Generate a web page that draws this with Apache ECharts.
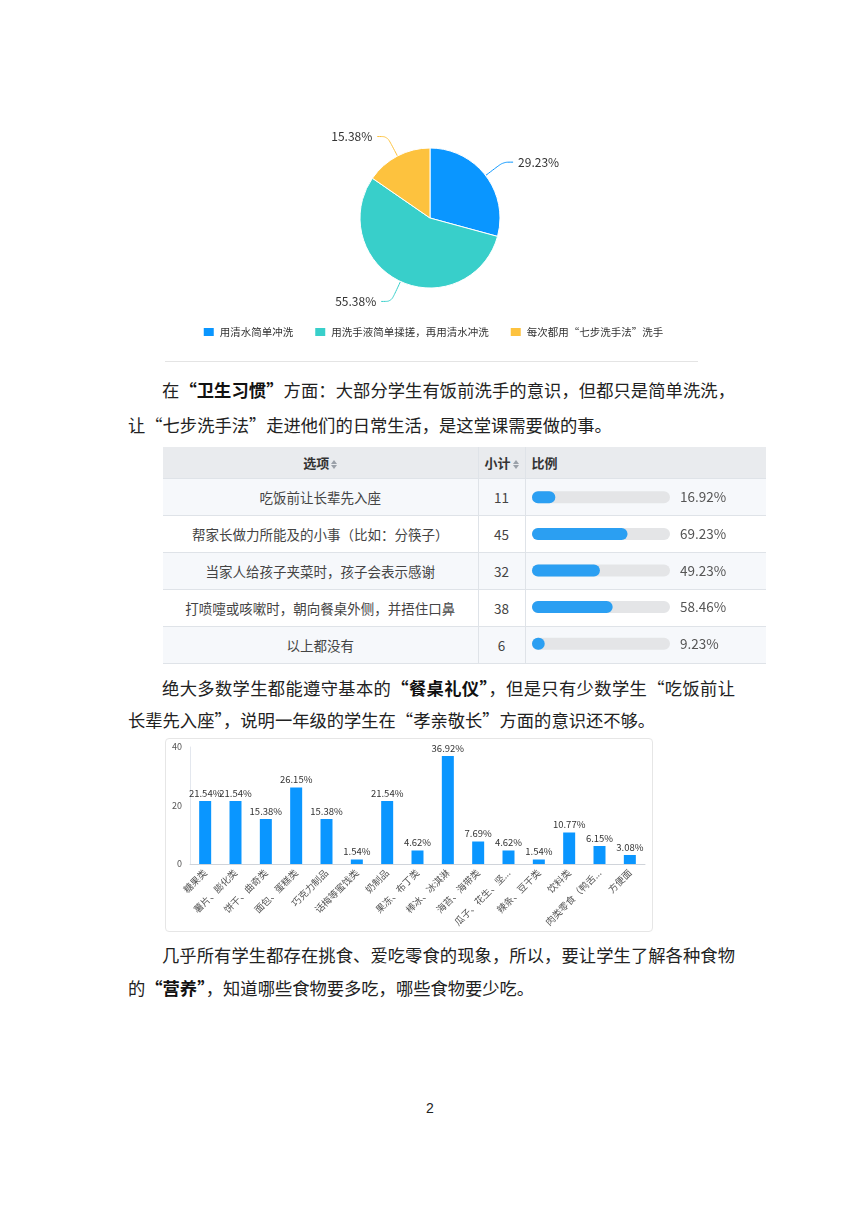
<!DOCTYPE html>
<html>
<head>
<meta charset="utf-8">
<script src="https://cdn.jsdelivr.net/npm/echarts@6/dist/echarts.min.js"></script>
<style>
body { margin: 0; background: #fff; font-family: "Noto Sans CJK SC", sans-serif; }
.page { position: relative; width: 860px; height: 1216px; background: #fff; overflow: hidden; }
.abs { position: absolute; }
.line { position: absolute; left: 128px; width: 607px; font-size: 17.3px; line-height: 24px; color: #222; white-space: nowrap; }
.line.first { padding-left: 34px; width: 573px; text-align: justify; text-align-last: justify; }
.line b { font-weight: 700; color: #111; }
.sep { left: 165px; top: 361px; width: 533px; height: 1px; background: #e4e4e4; }
table.opt { position: absolute; left: 163px; top: 447px; width: 603px; border-collapse: collapse; font-size: 13.5px; color: #444; table-layout: fixed; }
table.opt th { background: #e9ebee; height: 31px; font-weight: 700; color: #333; padding: 0; font-size: 13px; }
table.opt td { height: 36px; border-top: 1px solid #dfe3e8; padding: 0; }
table.opt td, table.opt th { border-right: 1px solid #dfe3e8; }
table.opt td:last-child, table.opt th:last-child { border-right: none; }
table.opt tr.alt td { background: #f6f8fb; }
table.opt tr:last-child td { border-bottom: 1px solid #dfe3e8; }
.c1 { text-align: center; }
.c2 { text-align: center; }
.sort { display: inline-block; width: 6px; height: 9px; position: relative; vertical-align: -1px; margin-left: 2px; }
.sort:before, .sort:after { content: ""; position: absolute; left: 0; border-left: 3px solid transparent; border-right: 3px solid transparent; }
.sort:before { top: 0; border-bottom: 4px solid #9aa0a8; }
.sort:after { bottom: 0; border-top: 4px solid #9aa0a8; }
.card { left: 165px; top: 738px; width: 486px; height: 192px; border: 1px solid #e6e6e6; border-radius: 4px; }
</style>
</head>
<body>
<div class="page">
  <div id="pie" class="abs" style="left:165px;top:100px;width:535px;height:255px;"></div>
  <div class="abs sep"></div>

  <div class="line first" style="top:378px;">在<b>“卫生习惯”</b>方面：大部分学生有饭前洗手的意识，但都只是简单洗洗，</div>
  <div class="line" style="top:413px;">让“七步洗手法”走进他们的日常生活，是这堂课需要做的事。</div>

  <table class="opt" id="tbl">
    <colgroup><col style="width:315px"><col style="width:47px"><col style="width:241px"></colgroup>
    <thead><tr><th class="c1">选项<span class="sort"></span></th><th class="c2">小计<span class="sort"></span></th><th style="text-align:left;padding-left:6px;">比例</th></tr></thead>
    <tbody id="tbody"></tbody>
  </table>
  <div id="ratio" class="abs" style="left:526px;top:479px;width:240px;height:183px;"></div>

  <div class="line first" style="top:676px;">绝大多数学生都能遵守基本的<b>“餐桌礼仪”</b>，但是只有少数学生“吃饭前让</div>
  <div class="line" style="top:708px;">长辈先入座”，说明一年级的学生在“孝亲敬长”方面的意识还不够。</div>

  <div class="abs card"></div>
  <div id="bar" class="abs" style="left:165px;top:738px;width:488px;height:194px;"></div>

  <div class="line first" style="top:943px;">几乎所有学生都存在挑食、爱吃零食的现象，所以，要让学生了解各种食物</div>
  <div class="line" style="top:976px;">的<b>“营养”</b>，知道哪些食物要多吃，哪些食物要少吃。</div>

  <div class="abs" style="left:420px;top:1100px;width:20px;text-align:center;font-size:14px;color:#222;font-family:'Liberation Sans',sans-serif;">2</div>
</div>

<script>
// 洗手方式
const washNames = ['用清水简单冲洗', '用洗手液简单揉搓，再用清水冲洗', '每次都用“七步洗手法”洗手']
const washPct = [29.23, 55.38, 15.38]
const washColors = ['#0a96ff', '#38cfca', '#fdc23e']

// 餐桌礼仪表格
const mannerNames = ['吃饭前让长辈先入座', '帮家长做力所能及的小事（比如：分筷子）', '当家人给孩子夹菜时，孩子会表示感谢', '打喷嚏或咳嗽时，朝向餐桌外侧，并捂住口鼻', '以上都没有']
const mannerCount = [11, 45, 32, 38, 6]
const mannerPct = [16.92, 69.23, 49.23, 58.46, 9.23]

// 零食
const snackNames = ['糖果类', '薯片、膨化类', '饼干、曲奇类', '面包、蛋糕类', '巧克力制品', '话梅等蜜饯类', '奶制品', '果冻、布丁类', '棒冰、冰淇淋', '海苔、海带类', '瓜子、花生、坚果类', '辣条、豆干类', '饮料类', '肉类零食（鸭舌、鸡爪）', '方便面']
const snackPct = [21.54, 21.54, 15.38, 26.15, 15.38, 1.54, 21.54, 4.62, 36.92, 7.69, 4.62, 1.54, 10.77, 6.15, 3.08]
const snackTicks = [0, 20, 40]

const font = '"Noto Sans CJK SC", sans-serif'

// 饼图
const pieChart = echarts.init(document.getElementById('pie'))
pieChart.setOption({
  color: washColors,
  textStyle: { fontFamily: font },
  legend: {
    bottom: 12,
    left: 'center',
    itemWidth: 12,
    itemHeight: 10,
    itemGap: 20,
    icon: 'rect',
    textStyle: { fontSize: 10.5, color: '#333' },
    data: washNames
  },
  series: [{
    type: 'pie',
    center: [265, 118],
    radius: 70,
    startAngle: 90,
    label: { formatter: '{c}%', fontSize: 12, color: '#333' },
    labelLine: { length: 22, length2: 10, smooth: true },
    itemStyle: { borderColor: '#fff', borderWidth: 1 },
    data: washNames.map((n, i) => ({ name: n, value: washPct[i] }))
  }]
})

// 表格文字
const tbody = document.getElementById('tbody')
mannerNames.forEach((n, i) => {
  const tr = document.createElement('tr')
  if (i % 2 === 0) tr.className = 'alt'
  tr.innerHTML = '<td class="c1">' + n + '</td><td class="c2">' + mannerCount[i] + '</td><td></td>'
  tbody.appendChild(tr)
})

// 比例进度条
const ratioChart = echarts.init(document.getElementById('ratio'))
ratioChart.setOption({
  animation: false,
  grid: { left: 6, width: 138, top: 0, bottom: 0 },
  xAxis: { type: 'value', min: 0, max: 100, show: false },
  yAxis: { type: 'category', inverse: true, show: false, data: mannerNames },
  series: [
    {
      type: 'bar',
      barWidth: 12,
      silent: true,
      itemStyle: { color: '#e4e5e7', borderRadius: 6 },
      label: {
        show: true,
        position: 'right',
        distance: 10,
        fontSize: 13.5,
        color: '#555',
        fontFamily: font,
        formatter: p => mannerPct[p.dataIndex].toFixed(2) + '%'
      },
      data: mannerPct.map(() => 100)
    },
    {
      type: 'bar',
      barWidth: 12,
      barGap: '-100%',
      itemStyle: { color: '#2b9ff2', borderRadius: 6 },
      data: mannerPct
    }
  ]
})

// 柱状图
const barChart = echarts.init(document.getElementById('bar'))
barChart.setOption({
  textStyle: { fontFamily: font },
  grid: { left: 25, right: 8, top: 9, bottom: 68 },
  xAxis: {
    type: 'category',
    data: snackNames,
    axisLine: { lineStyle: { color: '#d0d4da' } },
    axisTick: { length: 5, lineStyle: { color: '#d0d4da' } },
    axisLabel: {
      interval: 0,
      rotate: 45,
      fontSize: 9.5,
      color: '#555',
      margin: 7,
      formatter: v => v.length > 7 ? v.slice(0, 7) + '...' : v
    }
  },
  yAxis: {
    type: 'value',
    min: snackTicks[0],
    max: snackTicks[snackTicks.length - 1],
    interval: 20,
    axisLine: { show: true, lineStyle: { color: '#e3e7ee' } },
    splitLine: { show: false },
    axisLabel: { fontSize: 9, color: '#555', margin: 8 }
  },
  series: [{
    type: 'bar',
    barWidth: 12,
    itemStyle: { color: '#0a96ff' },
    label: { show: true, position: 'top', distance: 3, fontSize: 9.5, color: '#333', formatter: '{c}%' },
    data: snackPct
  }]
})
</script>
</body>
</html>
